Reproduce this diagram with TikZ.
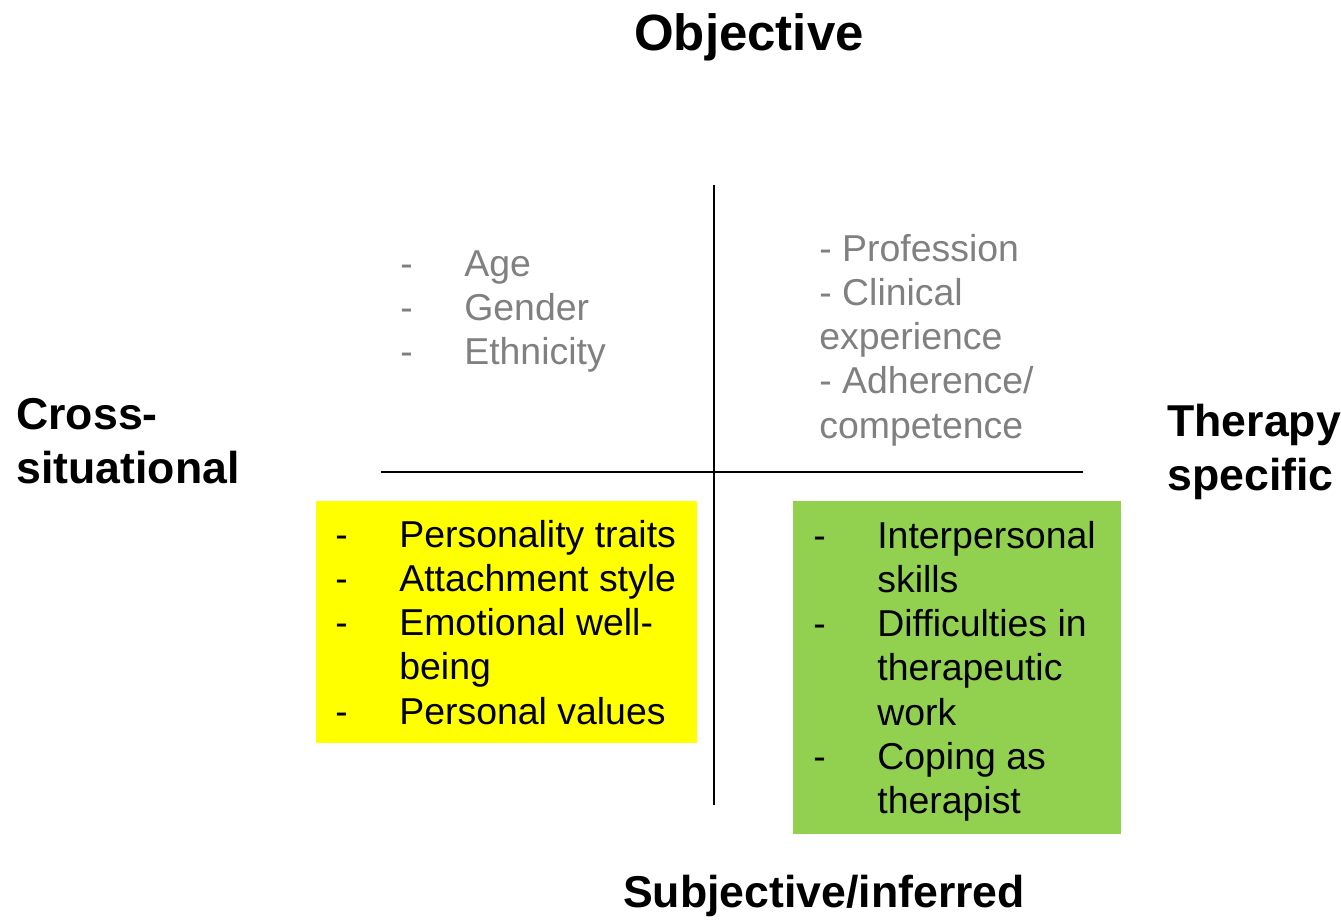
\documentclass[tikz,border=0pt]{standalone}
\usepackage{fontspec}
\setmainfont{Liberation Sans}
\usepackage{tikz}
\usetikzlibrary{positioning}
\definecolor{boxyellow}{HTML}{FFFF00}
\definecolor{boxgreen}{HTML}{92D050}
\definecolor{itemgray}{HTML}{808080}
\tikzset{every node/.append style={inner sep=0pt}}
\tikzset{heading/.style={font=\bfseries\fontsize{25.4pt}{31.2pt}\selectfont}}
\tikzset{itemlist/.style={anchor=base west,font=\fontsize{21.3pt}{25.2pt}\selectfont}}
\newcommand{\dashlist}[1]{\begin{tabular}[t]{@{}p{1.28cm}@{}l@{}}#1\end{tabular}}

\begin{document}
\begin{tikzpicture}[x=0.02cm,y=-0.02cm]
  \useasboundingbox (0,0) rectangle (1341,920);

  \coordinate (top) at (714,185);
  \coordinate (bot) at (714,805);
  \coordinate (lft) at (381,472);
  \coordinate (rgt) at (1083,472);

  \fill[boxyellow] (316,501) rectangle (697,743);
  \fill[boxgreen] (793,501) rectangle (1121,834);

  \draw[line width=1.4pt] (top) -- (bot);
  \draw[line width=1.4pt] (lft) -- (rgt);

  \node[heading,font=\bfseries\fontsize{29pt}{34pt}\selectfont,anchor=base] (obj) at (749,50) {Objective};
  \node[heading,anchor=base] (subj) at (824,907) {Subjective/inferred};
  \node[heading,anchor=base west] (cross) at (16,429)
    {\begin{tabular}[t]{@{}l@{}}Cross-\\situational\end{tabular}};
  \node[heading,anchor=base west] (spec) at (1167,436)
    {\begin{tabular}[t]{@{}l@{}}Therapy\\specific\end{tabular}};

  % objective, cross-situational
  \node[itemlist,text=itemgray] (demo) at (400,276)
    {\dashlist{-&Age\\ -&Gender\\ -&Ethnicity}};
  % objective, therapy specific
  \node[itemlist,text=itemgray] (prof) at (819,261)
    {\begin{tabular}[t]{@{}l@{}}- Profession\\- Clinical\\experience\\- Adherence/\\competence\end{tabular}};
  % subjective, cross-situational
  \node[itemlist] (pers) at (335,547)
    {\dashlist{-&Personality traits\\ -&Attachment style\\ -&Emotional well-\\ &being\\ -&Personal values}};
  % subjective, therapy specific
  \node[itemlist] (skill) at (813,548)
    {\dashlist{-&Interpersonal\\ &skills\\ -&Difficulties in\\ &therapeutic\\ &work\\ -&Coping as\\ &therapist}};
\end{tikzpicture}
\end{document}
